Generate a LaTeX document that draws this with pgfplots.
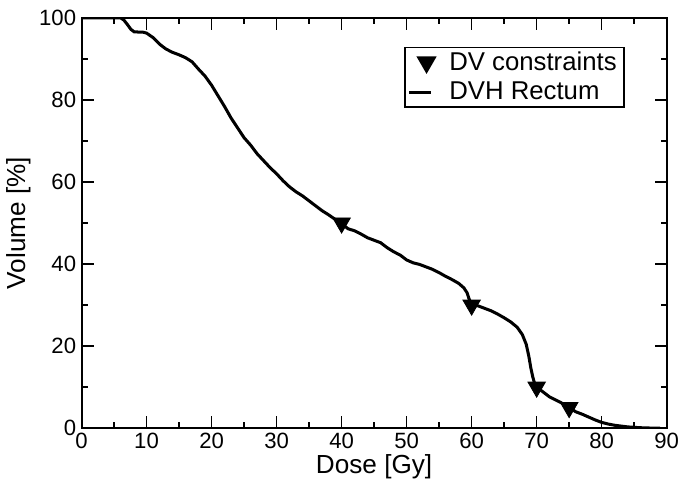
\documentclass[border=0pt]{standalone}
\usepackage{fontspec}
\setmainfont{Liberation Sans}
\usepackage{pgfplots}
\pgfplotsset{compat=1.18}
\pgfplotsset{shortline/.style={legend image code/.code={\draw[##1] (0cm,0cm) -- (0.38cm,0cm);}}}

\begin{document}
\begin{tikzpicture}
\begin{axis}[
    scale only axis,
    width=291pt, height=204pt,
    xmin=0, xmax=90, ymin=0, ymax=100,
    xtick={0,10,...,90}, ytick={0,20,...,100},
    minor xtick={5,15,...,85}, minor ytick={10,30,...,90},
    tick align=inside,
    major tick length=6pt, minor tick length=3pt,
    every tick/.style={black, line width=0.7pt},
    axis line style={line width=1pt},
    /pgf/number format/assume math mode=true,
    tick label style={font=\fontsize{11}{13}\selectfont},
    xticklabel style={inner xsep=0pt, inner ysep=2pt},
    yticklabel style={inner xsep=2.5pt, inner ysep=5pt},
    xlabel={Dose [Gy]}, ylabel={Volume [\%]},
    label style={font=\fontsize{13}{15}\selectfont},
    xlabel style={inner ysep=1pt},
    ylabel style={yshift=-2pt},
    legend style={at={(0.928,0.93)}, anchor=north east, draw=black, line width=0.8pt,
        font=\fontsize{12.8}{15}\selectfont, inner sep=1.5pt, row sep=3.5pt,
        nodes={inner ysep=0.5pt},
        /tikz/every odd column/.append style={column sep=5pt}},
    legend cell align=left,
]
\addlegendimage{only marks, mark=triangle*, mark size=5pt, mark options={rotate=180, fill=black, draw=black}}
\addlegendentry{DV constraints}
\addplot[black, line width=1.5pt, shortline] coordinates {
(0,100) (5,100) (6,100) (6.5,99.5) (7,98.5) (7.6,97.2) (8.1,96.6) (9.5,96.5) (10,96.3)
(11,95.2) (12,93.6) (13,92.4) (14,91.6) (15,91.0) (16,90.3) (17,89.3) (18,87.5) (19,85.8)
(20,83.6) (21,81.0) (22,78.4) (23,75.6) (24,73.2) (25,70.8) (26,69.0) (27,66.9) (28,65.2)
(29,63.5) (30,62.0) (31,60.3) (32,58.8) (33,57.6) (34,56.6) (35,55.4) (36,54.2) (37,53.0)
(38,52.0) (39,50.9) (40,49.8) (41,48.6) (42,48.1) (43,47.3) (44,46.4) (45,45.8) (46,45.2)
(47,44.0) (48,43.0) (49,42.2) (50,41.0) (51,40.3) (52,39.9) (53,39.3) (54,38.7) (55,37.9)
(56,37.0) (57,36.2) (58,35.3) (58.8,34.2) (59.3,33.0) (59.6,31.5) (60,30.2) (61,29.8)
(62,29.2) (63,28.6) (64,27.8) (65,26.9) (66,25.9) (67,24.6) (67.8,22.8) (68.4,20.4)
(68.8,17.5) (69.1,14.7) (69.4,12.5) (69.7,10.8) (70,10) (71,8.8) (72,7.6) (73,6.8) (74,6.0)
(75,5.0) (76,4.0) (77,3.4) (78,2.7) (79,2.0) (80,1.4) (81,1.0) (82,0.7) (83,0.5) (84,0.3)
(85,0.2) (86,0.1) (87,0.05) (88,0) (89,0)
};
\addlegendentry{DVH Rectum}
\addplot[only marks, mark=triangle*, mark size=5pt, mark options={rotate=180, fill=black, draw=black}, forget plot] coordinates {
(40,50) (60,30) (70,10) (75,5)
};
\end{axis}
\end{tikzpicture}
\end{document}
